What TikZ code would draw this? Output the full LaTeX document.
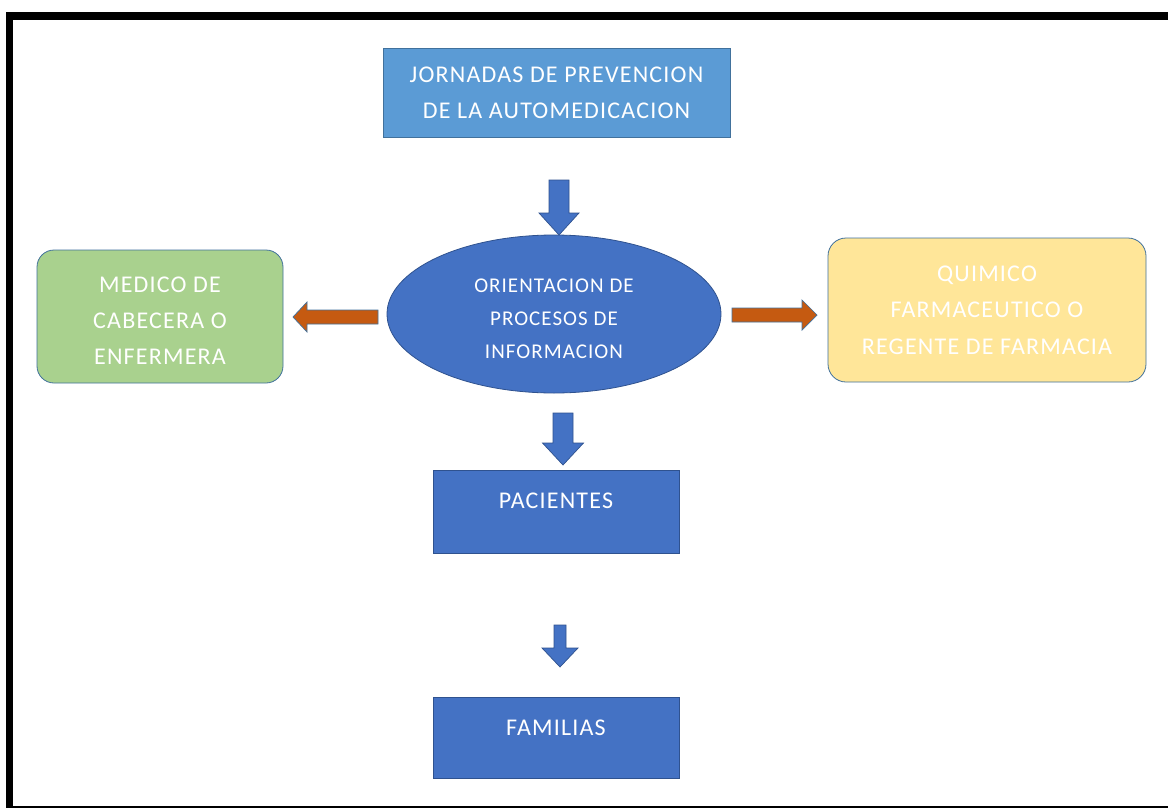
\documentclass[tikz,border=0pt]{standalone}
\usepackage{fontspec}
\setmainfont{Carlito}
\usetikzlibrary{shapes.geometric}
\definecolor{lightblue}{HTML}{5B9BD5}
\definecolor{midblue}{HTML}{4472C4}
\definecolor{edgeblue}{HTML}{41719C}
\definecolor{darkedge}{HTML}{2F528F}
\definecolor{greenfill}{HTML}{A9D18E}
\definecolor{yellowfill}{HTML}{FFE699}
\definecolor{orangefill}{HTML}{C55A11}
\tikzset{
  boxtext/.style={text=white, font=\fontsize{24}{36}\selectfont\addfontfeatures{LetterSpace=5}, align=center, inner sep=0pt},
  ovaltext/.style={text=white, font=\fontsize{21}{33}\selectfont\addfontfeatures{LetterSpace=5}, align=center, inner sep=0pt},
  sqbox/.style={boxtext, rectangle, draw=edgeblue, line width=0.8pt},
  rbox/.style={boxtext, rectangle, rounded corners=17pt, draw=edgeblue, line width=0.8pt},
  bluearrow/.style={fill=midblue, draw=darkedge, line width=0.7pt, line join=miter},
  orangearrow/.style={fill=orangefill, draw=edgeblue, line width=0.7pt, line join=miter}
}
\newcommand{\vblock}[6]{% x, ytop, ybase, ytip, halfshaft, halfhead
  \path[bluearrow] (#1-#5,#2) -- (#1+#5,#2) -- (#1+#5,#3) -- (#1+#6,#3) -- (#1,#4) -- (#1-#6,#3) -- (#1-#5,#3) -- cycle;}
\newcommand{\hblock}[6]{% y, xtail, xbase, xtip, halfshaft, halfhead
  \path[orangearrow] (#2,#1-#5) -- (#3,#1-#5) -- (#3,#1-#6) -- (#4,#1) -- (#3,#1+#6) -- (#3,#1+#5) -- (#2,#1+#5) -- cycle;}
\begin{document}
\begin{tikzpicture}[x=1pt, y=-1pt]
\useasboundingbox (0,0) rectangle (1168,809);
\fill[white] (0,0) rectangle (1168,809);
% frame
\fill[black] (6,12) rectangle (1168,20);
\fill[black] (6,12) rectangle (13,808);
\draw[black, line width=1.5pt] (6,807.2) -- (1168,807.2);
% nodes
\node[sqbox, fill=lightblue, minimum width=347pt, minimum height=89pt] (top) at (556.5,92.5)
  {JORNADAS DE PREVENCION\\DE LA AUTOMEDICACION};
\node[ellipse, fill=midblue, draw=darkedge, line width=0.8pt, minimum width=334pt, minimum height=158pt, inner sep=0pt] (ell) at (554,314) {};
\node[ovaltext] (elltext) at (554,319) {ORIENTACION DE\\PROCESOS DE\\INFORMACION};
\node[rbox, fill=greenfill, minimum width=246pt, minimum height=133pt] (med) at (160,316.5) {};
\node[boxtext] (medtext) at (160,320.5) {MEDICO DE\\CABECERA O\\ENFERMERA};
\node[rbox, fill=yellowfill, rounded corners=18pt, minimum width=318pt, minimum height=144pt, font=\fontsize{24}{36.5}\selectfont\addfontfeatures{LetterSpace=5}] (qui) at (987,310)
  {QUIMICO\\FARMACEUTICO O\\REGENTE DE FARMACIA};
\node[sqbox, fill=midblue, draw=darkedge, minimum width=246pt, text height=38pt, text depth=45pt] (pac) at (556,511.5)
  {PACIENTES};
\node[sqbox, fill=midblue, draw=darkedge, minimum width=246pt, text height=38pt, text depth=43pt] (fam) at (556,737.5)
  {FAMILIAS};
% block arrows
\vblock{559}{180}{213}{235}{10}{20}
\vblock{563}{413}{443}{465}{10}{20.5}
\vblock{560}{625}{648}{667}{6}{18}
\hblock{317}{378}{307}{293}{7}{15}
\hblock{315}{732}{802}{817}{7}{15}
\end{tikzpicture}
\end{document}
